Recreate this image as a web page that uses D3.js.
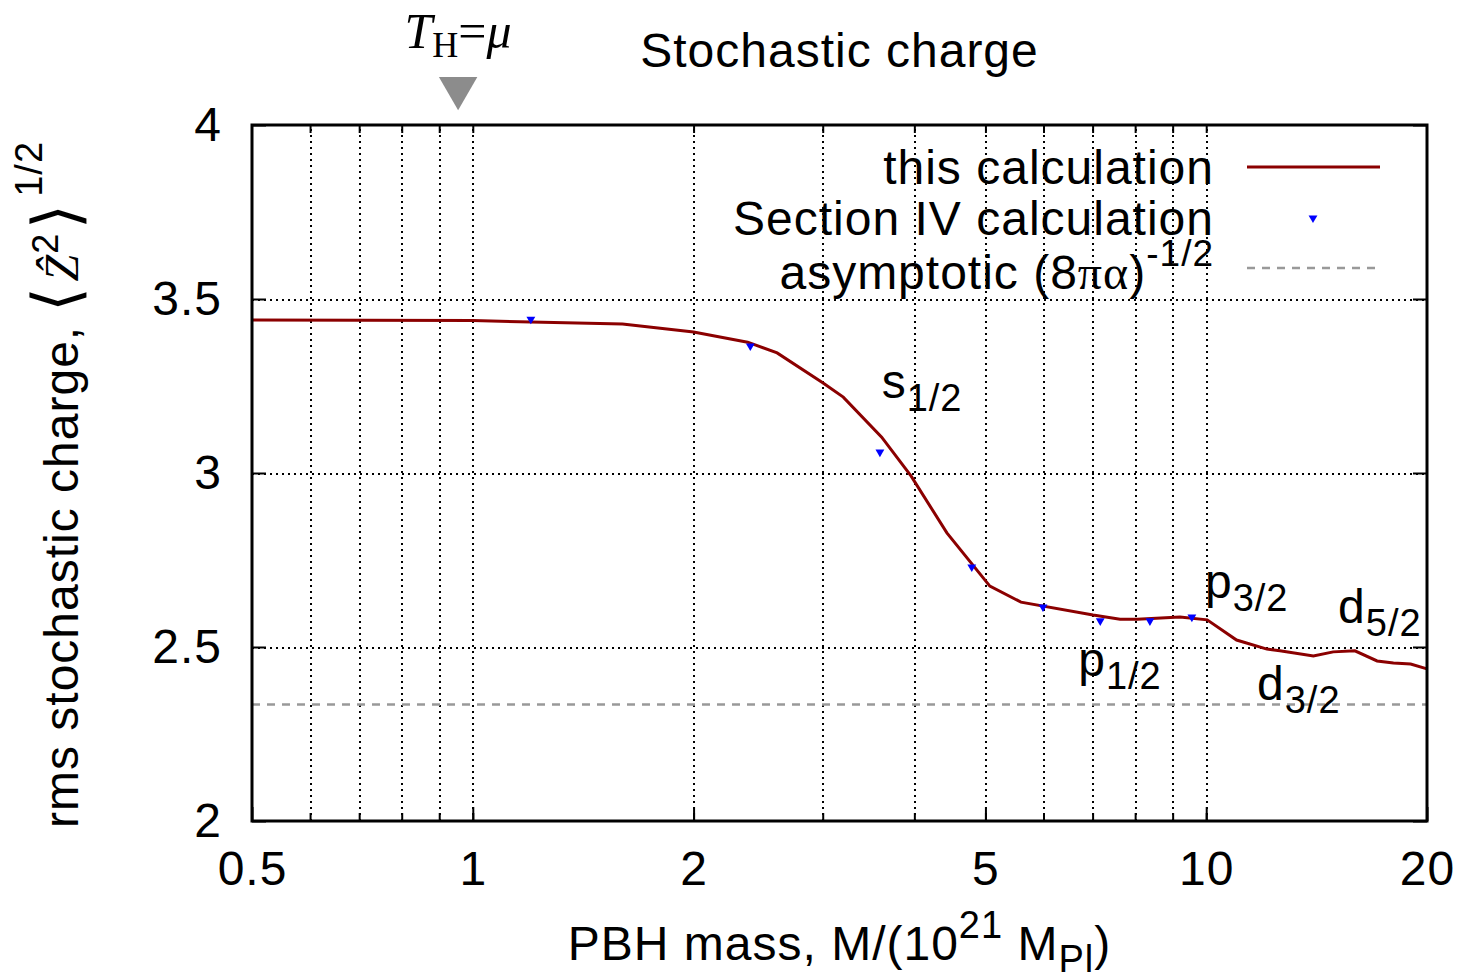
<!DOCTYPE html>
<html>
<head>
<meta charset="utf-8">
<script src="https://cdn.jsdelivr.net/npm/d3@7"></script>
<style>
  body { margin: 0; background: #fff; }
  text { font-family: "Liberation Sans", Arial, sans-serif; fill: #000; letter-spacing: 1px; }
  .grid line { stroke: #000; stroke-width: 2; stroke-dasharray: 2,4; shape-rendering: crispEdges; }
  .grid path { display: none; }
</style>
</head>
<body>
<div id="chart"></div>
<script>
// this calculation (solid dark red line)
var massLine = [0.5, 1.0, 1.6, 2.0, 2.37, 2.6, 3.0, 3.2, 3.61, 3.96, 4.43, 5.07, 5.59, 7.01,
                7.63, 8.05, 9.21, 10.03, 11.0, 12.1, 12.6, 14.0, 14.9, 15.95, 17.1, 18.0, 19.0, 20];
var chargeLine = [3.44, 3.438, 3.428, 3.405, 3.376, 3.345, 3.259, 3.218, 3.103, 2.991, 2.828, 2.675, 2.629, 2.592,
                  2.580, 2.580, 2.586, 2.578, 2.520, 2.494, 2.489, 2.474, 2.486, 2.489, 2.460, 2.454, 2.451, 2.437];

// Section IV calculation (blue triangles)
var massPoints = [1.2, 2.39, 3.59, 4.79, 5.99, 7.17, 8.38, 9.56];
var chargePoints = [3.442, 3.365, 3.060, 2.730, 2.615, 2.575, 2.575, 2.586];

// asymptotic (8 pi alpha)^-1/2
var asymptote = 2.335;

// T_H = mu marker
var tHmass = 0.955;

var xTicks = [0.5, 1, 2, 5, 10, 20];
var xMinor = [0.6, 0.7, 0.8, 0.9, 1, 2, 3, 4, 5, 6, 7, 8, 9, 10];
var yTicks = [2, 2.5, 3, 3.5, 4];
var yGrid = [2.5, 3, 3.5];

// shell labels: [main, sub, mass, charge] (left edge / baseline in data units)
var shellLabels = [
  ["s", "1/2", 3.61, 3.216],
  ["p", "1/2", 6.69, 2.417],
  ["p", "3/2", 9.96, 2.641],
  ["d", "3/2", 11.73, 2.348],
  ["d", "5/2", 15.13, 2.569]
];

var margin = {top: 125, right: 33, bottom: 159, left: 252},
    width = 1460 - margin.left - margin.right,
    height = 980 - margin.top - margin.bottom;

var svg = d3.select("#chart")
    .append("svg")
    .attr("width", 1460)
    .attr("height", 980)
    .append("g")
    .attr("transform", "translate(" + margin.left + "," + margin.top + ")");

var x = d3.scaleLog().domain([0.5, 20]).range([0, width]);
var y = d3.scaleLinear().domain([2, 4]).range([height, 0]);

// grid
svg.append("g")
    .attr("class", "grid")
    .attr("transform", "translate(0," + height + ")")
    .call(d3.axisBottom(x).tickValues(xMinor).tickSize(-height).tickFormat(""));
svg.append("g")
    .attr("class", "grid")
    .call(d3.axisLeft(y).tickValues(yGrid).tickSize(-width).tickFormat(""));

// asymptote
svg.append("line")
    .attr("x1", 0).attr("x2", width)
    .attr("y1", y(asymptote)).attr("y2", y(asymptote))
    .attr("stroke", "#999").attr("stroke-width", 2.5).attr("stroke-dasharray", "8,7");

// this calculation
var line = d3.line()
    .x(function(d, i) { return x(massLine[i]); })
    .y(function(d) { return y(d); });
svg.append("path")
    .datum(chargeLine)
    .attr("d", line)
    .attr("fill", "none")
    .attr("stroke", "#8b0000")
    .attr("stroke-width", 3);

// Section IV points
var tri = d3.symbol().type(d3.symbolTriangle).size(34);
svg.selectAll(".pt")
    .data(chargePoints)
    .enter()
    .append("path")
    .attr("class", "pt")
    .attr("d", tri)
    .attr("fill", "#0000ff")
    .attr("transform", function(d, i) {
        return "translate(" + x(massPoints[i]) + "," + y(d) + ") rotate(180)";
    });

// axes (inward ticks, mirrored)
function styleAxis(g) {
    g.select(".domain").remove();
    g.selectAll("line").attr("stroke", "#000").attr("stroke-width", 2);
}
svg.append("g")
    .attr("transform", "translate(0," + height + ")")
    .call(d3.axisBottom(x).tickValues(xTicks).tickSize(-14).tickPadding(30)
        .tickFormat(function(d) { return d; }))
    .call(styleAxis)
    .selectAll("text").style("font-size", "48px").style("font-family", "Liberation Sans, Arial, sans-serif");
svg.append("g")
    .attr("transform", "translate(0," + height + ")")
    .call(d3.axisBottom(x).tickValues(xMinor).tickSize(-8).tickFormat(""))
    .call(styleAxis);
svg.append("g")
    .call(d3.axisTop(x).tickValues(xMinor).tickSize(-8).tickFormat(""))
    .call(styleAxis);
svg.append("g")
    .call(d3.axisLeft(y).tickValues(yTicks).tickSize(-14).tickPadding(30)
        .tickFormat(function(d) { return d; }))
    .call(styleAxis)
    .selectAll("text").style("font-size", "48px").style("font-family", "Liberation Sans, Arial, sans-serif");
svg.append("g")
    .attr("transform", "translate(" + width + ",0)")
    .call(d3.axisRight(y).tickValues(yTicks).tickSize(-14).tickFormat(""))
    .call(styleAxis);

// border
svg.append("rect")
    .attr("width", width).attr("height", height)
    .attr("fill", "none").attr("stroke", "#000").attr("stroke-width", 3);

// shell labels
shellLabels.forEach(function(s) {
    var t = svg.append("text")
        .attr("x", x(s[2])).attr("y", y(s[3]))
        .style("font-size", "48px");
    t.append("tspan").text(s[0]);
    t.append("tspan").attr("dy", 13).style("font-size", "38px").text(s[1]);
});

// legend
var lg = svg.append("g").attr("transform", "translate(" + (1214 - margin.left) + ",0)");
lg.append("text").attr("y", 59).attr("text-anchor", "end").style("font-size", "48px").text("this calculation");
lg.append("text").attr("y", 110).attr("text-anchor", "end").style("font-size", "48px").text("Section IV calculation");
var a = lg.append("text").attr("y", 164).attr("text-anchor", "end").style("font-size", "48px");
a.append("tspan").text("asymptotic (8");
a.append("tspan").style("font-family", "Liberation Serif, serif").text("πα");
a.append("tspan").text(")");
a.append("tspan").attr("dy", -23).style("font-size", "37px").text("-1/2");
lg.append("line").attr("x1", 33).attr("x2", 166).attr("y1", 42).attr("y2", 42)
    .attr("stroke", "#8b0000").attr("stroke-width", 3);
lg.append("path").attr("d", tri).attr("fill", "#0000ff")
    .attr("transform", "translate(99,93) rotate(180)");
lg.append("line").attr("x1", 33).attr("x2", 166).attr("y1", 143).attr("y2", 143)
    .attr("stroke", "#999").attr("stroke-width", 2.5).attr("stroke-dasharray", "8,7");

// title
svg.append("text")
    .attr("x", width / 2).attr("y", -58)
    .attr("text-anchor", "middle")
    .style("font-size", "48px")
    .text("Stochastic charge");

// T_H = mu marker
svg.append("path")
    .attr("d", d3.symbol().type(d3.symbolTriangle).size(640))
    .attr("fill", "#8c8c8c")
    .attr("transform", "translate(" + x(tHmass) + "," + (-37) + ") rotate(180)");
var th = svg.append("text")
    .attr("x", x(tHmass)).attr("y", -77)
    .attr("text-anchor", "middle")
    .style("font-family", "Liberation Serif, serif")
    .style("font-size", "50px")
    .style("letter-spacing", "0px");
th.append("tspan").style("font-style", "italic").text("T");
th.append("tspan").attr("dy", 9).style("font-size", "36px").text("H");
th.append("tspan").attr("dy", -9).text("=");
th.append("tspan").style("font-style", "italic").text("μ");

// x axis title
var xt = svg.append("text")
    .attr("x", width / 2).attr("y", height + 139)
    .attr("text-anchor", "middle")
    .style("font-size", "48px");
xt.append("tspan").text("PBH mass, M/(10");
xt.append("tspan").attr("dy", -22).style("font-size", "38px").text("21");
xt.append("tspan").attr("dy", 22).text(" M");
xt.append("tspan").attr("dy", 12).style("font-size", "38px").text("Pl");
xt.append("tspan").attr("dy", -12).text(")");

// y axis title
var yt = svg.append("text")
    .attr("transform", "translate(" + (78 - margin.left) + "," + (828 - margin.top) + ") rotate(-90)")
    .style("font-size", "48px");
yt.append("tspan").text("rms stochastic charge, ");
yt.append("tspan").style("font-family", "DejaVu Sans, sans-serif").style("font-size", "64px").style("font-weight", "200").text("⟨");
yt.append("tspan").attr("dx", 4).style("font-family", "Liberation Serif, serif").style("font-style", "italic").text("Ẑ");
yt.append("tspan").attr("dy", -20).style("font-size", "36px").text("2");
yt.append("tspan").attr("dy", 20).attr("dx", 4).style("font-family", "DejaVu Sans, sans-serif").style("font-size", "64px").style("font-weight", "200").text("⟩");
yt.append("tspan").attr("dy", -36).attr("dx", 6).style("font-size", "38px").text("1/2");
</script>
</body>
</html>
